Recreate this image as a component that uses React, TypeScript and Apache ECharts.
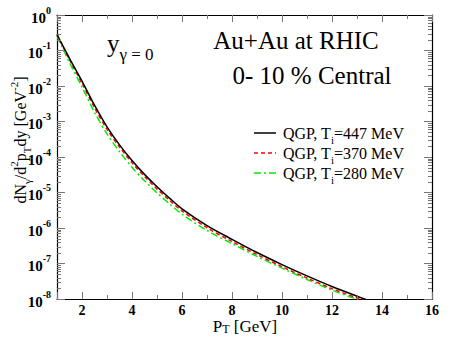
import React, { useEffect, useRef } from "react";
import * as echarts from "echarts";

const FONT = "'Liberation Serif', 'Times New Roman', serif";

const X_MIN = 1;
const X_MAX = 16;
const Y_MIN = 1e-8;
const Y_MAX = 1;

const pT = [1, 1.5, 2, 2.5, 3, 3.5, 4, 4.5, 5, 5.5, 6, 7, 8, 9, 10, 11, 12, 13, 14];

const qgp447 = [0.282, 0.0603, 0.0138, 0.00288, 7.08e-4, 2.19e-4, 7.94e-5, 3.24e-5, 1.45e-5, 6.92e-6, 3.47e-6, 1.17e-6, 4.79e-7, 2.04e-7, 9.33e-8, 4.47e-8, 2.24e-8, 1.2e-8, 6.6e-9];
const qgp370 = [0.282, 0.055, 0.012, 0.00245, 6.03e-4, 1.91e-4, 6.92e-5, 2.82e-5, 1.26e-5, 6.03e-6, 3.02e-6, 1.02e-6, 4.17e-7, 1.78e-7, 8.13e-8, 3.89e-8, 1.95e-8, 1.07e-8, 6.0e-9];
const qgp280 = [0.251, 0.0457, 0.00933, 0.00182, 4.47e-4, 1.41e-4, 5.13e-5, 2.14e-5, 9.77e-6, 4.79e-6, 2.45e-6, 8.51e-7, 3.63e-7, 1.58e-7, 7.41e-8, 3.55e-8, 1.78e-8, 9.77e-9, 5.5e-9];

const seriesNames = ["QGP, T_i=447 MeV", "QGP, T_i=370 MeV", "QGP, T_i=280 MeV"];
const legendTexts = [
  "QGP, T{sub|i}=447 MeV",
  "QGP, T{sub|i}=370 MeV",
  "QGP, T{sub|i}=280 MeV",
];
const seriesColors = ["#000000", "#ff0000", "#00ee00"];

const xMinorTicks = [3, 5, 7, 9, 11, 13, 15];
const yDecades = [-8, -7, -6, -5, -4, -3, -2, -1];
const yMinorMantissas = [2, 3, 4, 5, 6, 7, 8, 9];

export default function App() {
  const ref = useRef<HTMLDivElement>(null);

  useEffect(() => {
    if (!ref.current) return;
    const chart = echarts.init(ref.current, undefined, { renderer: "svg" });

    const toPairs = (ys: number[]) => pT.map((x, i) => [x, ys[i]]);

    const tickData: number[][] = [];
    yDecades.forEach((d) =>
      yMinorMantissas.forEach((m) => tickData.push([X_MIN, m * Math.pow(10, d), 0]))
    );
    xMinorTicks.forEach((x) => tickData.push([x, Y_MAX, 1]));

    const tickColor = "#777";

    const txt = (size: number, weight = "normal") => ({
      fontFamily: FONT,
      fontSize: size,
      fontWeight: weight,
      font: `${weight} ${size}px ${FONT}`,
      fill: "#000",
    });

    const option: any = {
      animation: false,
      backgroundColor: "#ffffff",
      textStyle: { fontFamily: FONT },
      grid: {
        left: 57,
        right: 26,
        top: 15,
        bottom: 55,
        containLabel: false,
        outerBoundsMode: "none",
      },
      xAxis: [
        {
          type: "value",
          min: X_MIN,
          max: X_MAX,
          splitNumber: 8,
          position: "bottom",
          splitLine: { show: false },
          axisLine: { show: true, onZero: false, lineStyle: { color: "#000", width: 1.2 } },
          axisTick: { show: true, inside: true, length: 7, lineStyle: { color: tickColor, width: 1 } },
          axisLabel: {
            show: true,
            margin: 4,
            formatter: (v: number) => (v === X_MIN ? "" : `{n|${v}}`),
            rich: {
              n: { fontFamily: FONT, fontWeight: "bold", fontSize: 14, lineHeight: 14, color: "#000" },
            },
          },
        },
        {
          type: "value",
          min: X_MIN,
          max: X_MAX,
          splitNumber: 8,
          position: "top",
          splitLine: { show: false },
          axisLine: { show: true, onZero: false, lineStyle: { color: "#000", width: 1.2 } },
          axisTick: { show: true, inside: true, length: 7, lineStyle: { color: tickColor, width: 1 } },
          axisLabel: { show: false },
        },
      ],
      yAxis: [
        {
          type: "log",
          logBase: 10,
          min: Y_MIN,
          max: Y_MAX,
          interval: 1,
          position: "left",
          splitLine: { show: false },
          axisLine: { show: true, onZero: false, lineStyle: { color: "#000", width: 1.2 } },
          axisTick: { show: true, inside: true, length: 8, lineStyle: { color: tickColor, width: 1 } },
          axisLabel: {
            show: true,
            margin: 6,
            formatter: (v: number) => `{b|10}{s|${Math.round(Math.log10(v))}}`,
            rich: {
              b: { fontFamily: FONT, fontWeight: "bold", fontSize: 15, color: "#000", verticalAlign: "bottom", lineHeight: 20 },
              s: { fontFamily: FONT, fontWeight: "bold", fontSize: 10, color: "#000", verticalAlign: "top", lineHeight: 20 },
            },
          },
        },
        {
          type: "log",
          logBase: 10,
          min: Y_MIN,
          max: Y_MAX,
          interval: 1,
          position: "right",
          splitLine: { show: false },
          axisLine: { show: true, onZero: false, lineStyle: { color: "#000", width: 1.2 } },
          axisTick: { show: true, inside: true, length: 8, lineStyle: { color: tickColor, width: 1 } },
          axisLabel: { show: false },
        },
      ],
      series: [
        {
          name: seriesNames[2],
          type: "line",
          data: toPairs(qgp280),
          showSymbol: false,
          smooth: 0.3,
          clip: true,
          lineStyle: { color: seriesColors[2], width: 1.5, type: [7, 3, 2, 3] },
          z: 2,
        },
        {
          name: seriesNames[1],
          type: "line",
          data: toPairs(qgp370),
          showSymbol: false,
          smooth: 0.3,
          clip: true,
          lineStyle: { color: seriesColors[1], width: 1.5, type: [4, 3] },
          z: 3,
        },
        {
          name: seriesNames[0],
          type: "line",
          data: toPairs(qgp447),
          showSymbol: false,
          smooth: 0.3,
          clip: true,
          lineStyle: { color: seriesColors[0], width: 1.5, type: "solid" },
          z: 4,
        },
        {
          type: "custom",
          coordinateSystem: "cartesian2d",
          xAxisIndex: 0,
          yAxisIndex: 0,
          silent: true,
          data: tickData,
          z: 5,
          renderItem: (params: any, api: any) => {
            const cs = params.coordSys;
            const kind = api.value(2);
            const st = { stroke: tickColor, lineWidth: 1 };
            if (kind === 0) {
              const p = api.coord([X_MIN, api.value(1)]);
              const y = Math.round(p[1]) + 0.5;
              return {
                type: "group",
                children: [
                  { type: "line", shape: { x1: cs.x, y1: y, x2: cs.x + 4, y2: y }, style: st },
                  { type: "line", shape: { x1: cs.x + cs.width, y1: y, x2: cs.x + cs.width - 4, y2: y }, style: st },
                ],
              };
            }
            const p = api.coord([api.value(0), Y_MAX]);
            const x = Math.round(p[0]) + 0.5;
            return {
              type: "group",
              children: [
                { type: "line", shape: { x1: x, y1: cs.y + cs.height, x2: x, y2: cs.y + cs.height - 4 }, style: st },
                { type: "line", shape: { x1: x, y1: cs.y, x2: x, y2: cs.y + 4 }, style: st },
              ],
            };
          },
        },
      ],
      graphic: {
        elements: [
          // y-axis title
          {
            type: "text",
            x: 20,
            y: 140,
            rotation: Math.PI / 2,
            style: {
              ...txt(16),
              text: "dN{sub|γ}/d{sup|2}p{sub|T}dy [GeV{sup|-2}]",
              align: "center",
              verticalAlign: "middle",
              textAlign: "center",
              textVerticalAlign: "middle",
              rich: {
                sub: { fontFamily: FONT, fontSize: 11, verticalAlign: "bottom", lineHeight: 24, fill: "#000" },
                sup: { fontFamily: FONT, fontSize: 11, verticalAlign: "top", lineHeight: 24, fill: "#000" },
              },
            },
          },
          // x-axis title
          {
            type: "text",
            x: 245,
            y: 326,
            style: {
              ...txt(17),
              text: "P{sub|T} [GeV]",
              align: "center",
              verticalAlign: "middle",
              textAlign: "center",
              textVerticalAlign: "middle",
              rich: {
                sub: { fontFamily: FONT, fontSize: 12, verticalAlign: "bottom", lineHeight: 18, fill: "#000" },
              },
            },
          },
          // y_gamma = 0
          {
            type: "text",
            x: 107,
            y: 47,
            style: {
              ...txt(24),
              text: "{y|y}{s|γ = 0}",
              align: "left",
              verticalAlign: "middle",
              textAlign: "left",
              textVerticalAlign: "middle",
              rich: {
                y: { fontFamily: FONT, fontSize: 25, verticalAlign: "top", lineHeight: 32, fill: "#000" },
                s: { fontFamily: FONT, fontSize: 17, verticalAlign: "bottom", lineHeight: 32, fill: "#000" },
              },
            },
          },
          {
            type: "text",
            x: 296,
            y: 40,
            style: {
              ...txt(25),
              text: "Au+Au at RHIC",
              align: "center",
              verticalAlign: "middle",
              textAlign: "center",
              textVerticalAlign: "middle",
            },
          },
          {
            type: "text",
            x: 312,
            y: 75,
            style: {
              ...txt(25),
              text: "0- 10 % Central",
              align: "center",
              verticalAlign: "middle",
              textAlign: "center",
              textVerticalAlign: "middle",
            },
          },
          // legend
          ...legendTexts.flatMap((t, i) => {
            const y = 133 + i * 20;
            const dash = i === 0 ? null : i === 1 ? [4, 3] : [7, 3, 2, 3];
            return [
              {
                type: "line",
                shape: { x1: 254, y1: y, x2: 276, y2: y },
                style: { stroke: seriesColors[i], lineWidth: 1.5, lineDash: dash },
              },
              {
                type: "text",
                x: 283,
                y: y,
                style: {
                  ...txt(16),
                  text: t,
                  align: "left",
                  verticalAlign: "middle",
                  textAlign: "left",
                  textVerticalAlign: "middle",
                  rich: {
                    sub: { fontFamily: FONT, fontSize: 11, verticalAlign: "bottom", lineHeight: 24, fill: "#000" },
                  },
                },
              },
            ];
          }),
        ],
      },
    };

    chart.setOption(option);
    return () => chart.dispose();
  }, []);

  return (
    <div
      ref={ref}
      style={{ position: "fixed", left: 0, top: 0, width: 458, height: 354, background: "#fff" }}
    />
  );
}
